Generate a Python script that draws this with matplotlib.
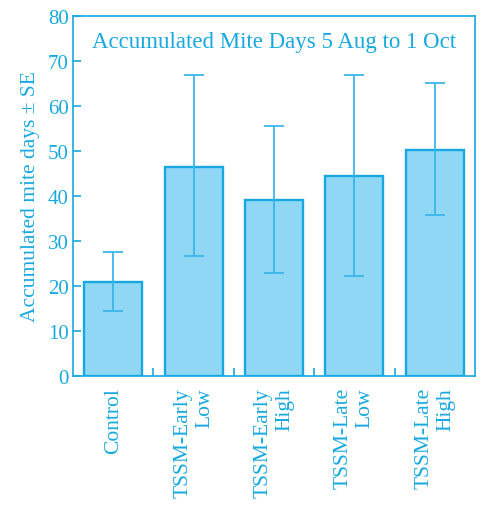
import matplotlib
matplotlib.use("Agg")
import matplotlib.pyplot as plt
import numpy as np

# accumulated mite days per treatment, with standard errors
treatments = ["Control", "TSSM-Early\nLow", "TSSM-Early\nHigh", "TSSM-Late\nLow", "TSSM-Late\nHigh"]
means = [20.9, 46.4, 39.1, 44.4, 50.2]
err_low = [6.5, 19.8, 16.2, 22.1, 14.5]
err_high = [6.7, 20.4, 16.5, 22.6, 14.9]

cyan = "#17a8e1"
face = "#8fd7f5"
plt.rcParams["font.family"] = ["Liberation Serif", "DejaVu Serif"]

fig = plt.figure(figsize=(4.81, 5.06), dpi=100)
ax = fig.add_axes([73 / 481, 1 - 377 / 506, 402 / 481, 360 / 506])

x = np.arange(len(treatments))
ax.bar(x, means, width=0.72, color=face, edgecolor=cyan, linewidth=1.7, zorder=2)
ax.errorbar(x, means, yerr=[err_low, err_high], fmt="none", ecolor="#3bb6ea",
            elinewidth=1.3, capsize=7, capthick=1.3, zorder=3)

ax.set_xlim(-0.5, 4.5)
ax.set_ylim(0, 80)
ax.set_yticks(range(0, 81, 10))

# separator ticks between the bars, labels centred under each bar
ax.set_xticks([0.5, 1.5, 2.5, 3.5])
ax.set_xticklabels([])
ax.set_xticks(x, minor=True)
ax.set_xticklabels(treatments, minor=True, rotation=90, va="top", ha="center",
                   multialignment="right", fontsize=15.5, color=cyan)
ax.tick_params(axis="x", which="minor", length=0, pad=8)
ax.tick_params(axis="x", which="major", direction="in", length=6, width=1.2, color=cyan)
ax.tick_params(axis="y", direction="in", length=6, width=1.2, color=cyan,
               labelcolor=cyan, labelsize=15, pad=3)

for s in ax.spines.values():
    s.set_color(cyan)
    s.set_linewidth(1.2)

ax.set_ylabel("Accumulated mite days ± SE", color=cyan, fontsize=15.5, labelpad=6)
ax.text(0.5, 0.93, "Accumulated Mite Days 5 Aug to 1 Oct", transform=ax.transAxes,
        ha="center", va="center", color=cyan, fontsize=16.5)

fig.savefig("out.png", dpi=100)
